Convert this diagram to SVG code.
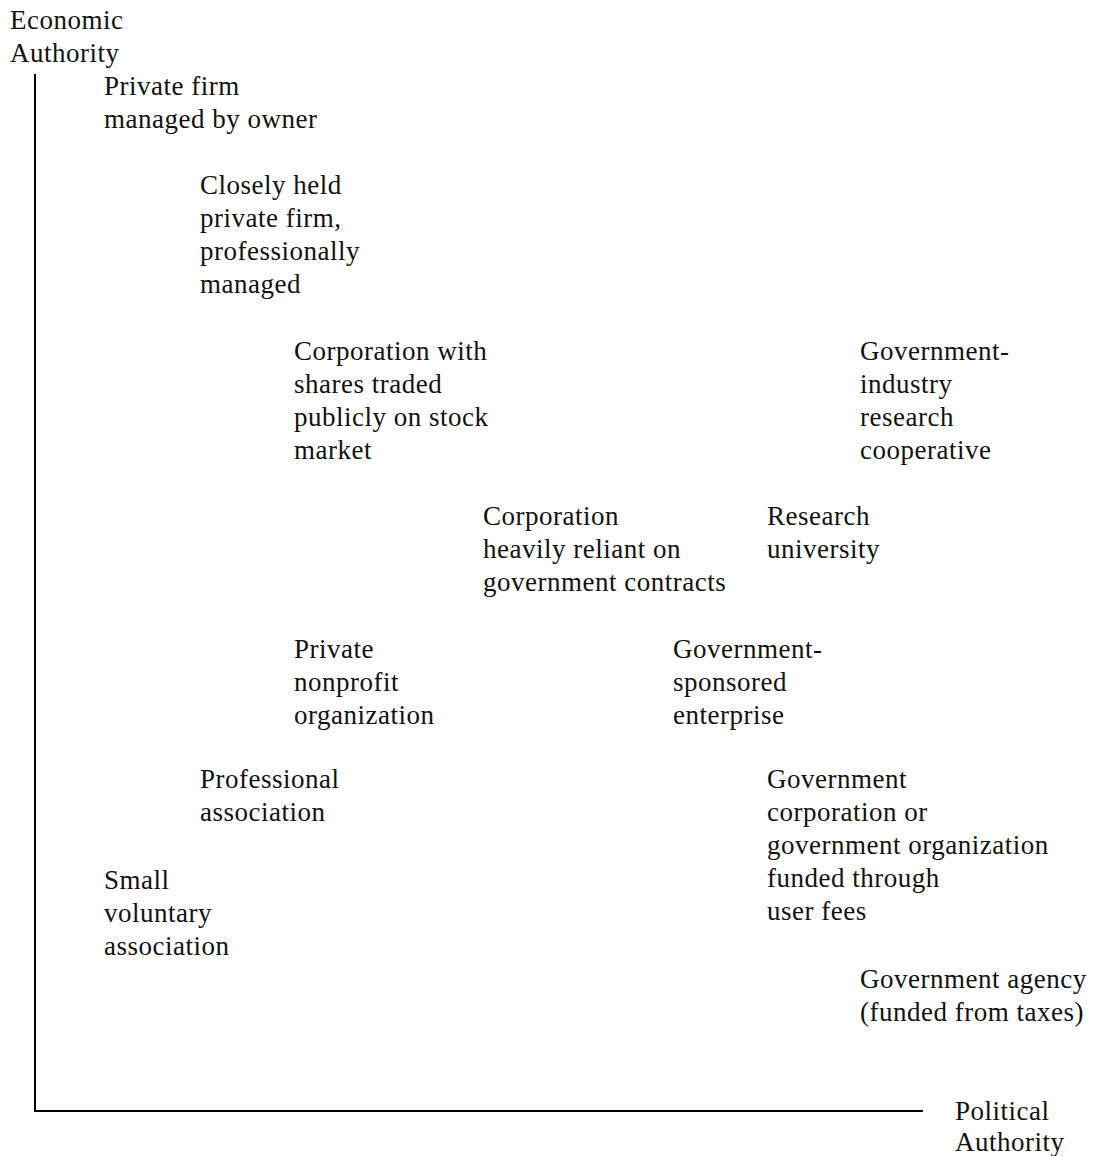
<svg xmlns="http://www.w3.org/2000/svg" width="1093" height="1156" viewBox="0 0 1093 1156">
<style>
text { font-family: "Liberation Serif", "Times New Roman", serif; font-size: 27px; letter-spacing: 0.5px; fill: #111; }
.axis { stroke: #000; stroke-width: 2; fill: none; }
</style>
<rect width="1093" height="1156" fill="#fff"/>
<g id="connectors">
<line class="axis" x1="35" y1="74" x2="35" y2="1111"/>
<line class="axis" x1="34" y1="1111" x2="923" y2="1111"/>
</g>
<g id="y-axis-label"><text x="10" y="29">Economic</text><text x="10" y="62">Authority</text></g>
<g id="x-axis-label"><text x="955" y="1120">Political</text><text x="955" y="1151">Authority</text></g>
<g id="private-firm-owner"><text x="104" y="95">Private firm</text><text x="104" y="128">managed by owner</text></g>
<g id="closely-held"><text x="200" y="194">Closely held</text><text x="200" y="227">private firm,</text><text x="200" y="260">professionally</text><text x="200" y="293">managed</text></g>
<g id="public-corporation"><text x="294" y="360">Corporation with</text><text x="294" y="393">shares traded</text><text x="294" y="426">publicly on stock</text><text x="294" y="459">market</text></g>
<g id="gov-industry-coop"><text x="860" y="360">Government-</text><text x="860" y="393">industry</text><text x="860" y="426">research</text><text x="860" y="459">cooperative</text></g>
<g id="gov-contracts-corp"><text x="483" y="525">Corporation</text><text x="483" y="558">heavily reliant on</text><text x="483" y="591">government contracts</text></g>
<g id="research-university"><text x="767" y="525">Research</text><text x="767" y="558">university</text></g>
<g id="private-nonprofit"><text x="294" y="658">Private</text><text x="294" y="691">nonprofit</text><text x="294" y="724">organization</text></g>
<g id="gse"><text x="673" y="658">Government-</text><text x="673" y="691">sponsored</text><text x="673" y="724">enterprise</text></g>
<g id="professional-association"><text x="200" y="788">Professional</text><text x="200" y="821">association</text></g>
<g id="gov-corporation"><text x="767" y="788">Government</text><text x="767" y="821">corporation or</text><text x="767" y="854">government organization</text><text x="767" y="887">funded through</text><text x="767" y="920">user fees</text></g>
<g id="small-voluntary"><text x="104" y="889">Small</text><text x="104" y="922">voluntary</text><text x="104" y="955">association</text></g>
<g id="gov-agency"><text x="860" y="988">Government agency</text><text x="860" y="1021">(funded from taxes)</text></g>
</svg>
